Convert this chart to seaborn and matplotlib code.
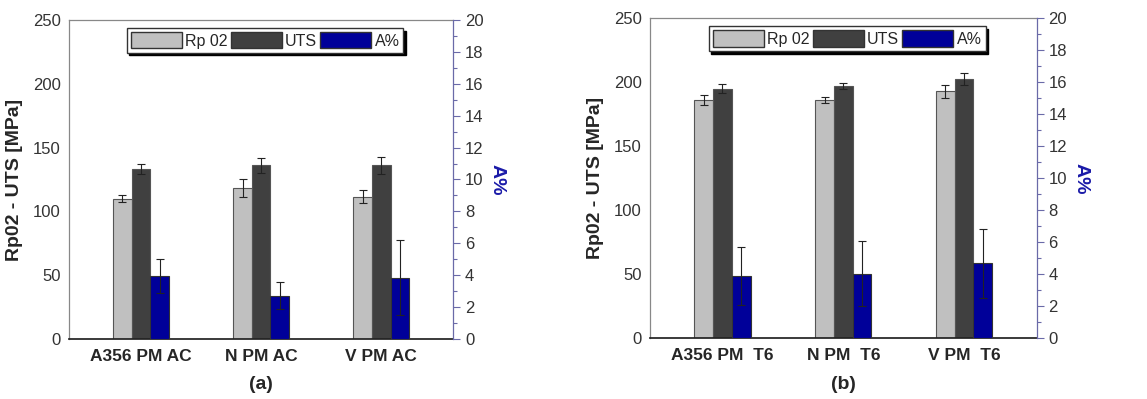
import matplotlib
matplotlib.use("Agg")
import matplotlib.pyplot as plt
from matplotlib.patches import Patch
from matplotlib.ticker import MultipleLocator
import pandas as pd
import seaborn as sns

sns.set_theme(style="white")
plt.rcParams['font.family'] = ['Liberation Sans', 'DejaVu Sans']

metrics = ["Rp 02", "UTS", "A%"]
colors = {"Rp 02": "#c0c0c0", "UTS": "#404040", "A%": "#000099"}

groups_ac = ["A356 PM AC", "N PM AC", "V PM AC"]
rp02_ac = [110, 118, 111.5]
rp02_ac_err = [3, 7, 5]
uts_ac = [133, 136, 136]
uts_ac_err = [4, 6, 7]
elong_ac = [3.95, 2.7, 3.85]
elong_ac_err = [1.05, 0.85, 2.35]

groups_t6 = ["A356 PM  T6", "N PM  T6", "V PM  T6"]
rp02_t6 = [186, 186, 193]
rp02_t6_err = [4, 2.5, 5]
uts_t6 = [195, 197, 202.5]
uts_t6_err = [3.5, 2.5, 4.5]
elong_t6 = [3.9, 4.05, 4.7]
elong_t6_err = [1.8, 2.05, 2.15]


def add_errors(ax, container, errs):
    for bar in container:
        xc = bar.get_x() + bar.get_width() / 2
        idx = int(round(xc))
        ax.errorbar(xc, bar.get_height(), yerr=errs[idx], fmt='none',
                    ecolor='#222222', elinewidth=0.8, capsize=3, capthick=0.8)


def draw_panel(ax, groups, rp02, rp02_err, uts, uts_err, elong, elong_err, tag):
    mpa = pd.DataFrame({
        "group": groups * 2,
        "metric": ["Rp 02"] * 3 + ["UTS"] * 3,
        "value": rp02 + uts,
    })
    pct = pd.DataFrame({"group": groups, "metric": ["A%"] * 3, "value": elong})

    ax2 = ax.twinx()
    sns.barplot(data=mpa, x="group", y="value", hue="metric", hue_order=metrics,
                order=groups, palette=colors, width=0.465, errorbar=None, dodge=True,
                saturation=1, edgecolor="#555555", linewidth=0.8, legend=False, ax=ax)
    sns.barplot(data=pct, x="group", y="value", hue="metric", hue_order=metrics,
                order=groups, palette=colors, width=0.465, errorbar=None, dodge=True,
                saturation=1, edgecolor="#333333", linewidth=0.8, legend=False, ax=ax2)

    mpa_bars = [c for c in ax.containers if len(c)]
    pct_bars = [c for c in ax2.containers if len(c)]
    for cont, errs in zip(mpa_bars, [rp02_err, uts_err]):
        add_errors(ax, cont, errs)
    add_errors(ax2, pct_bars[-1], elong_err)

    ax.set_xlim(-0.6, 2.6)
    ax.set_ylim(0, 250)
    ax2.set_ylim(0, 20)
    ax.set_yticks(range(0, 251, 50))
    ax2.yaxis.set_major_locator(MultipleLocator(2))
    ax2.yaxis.set_minor_locator(MultipleLocator(1))

    ax.set_ylabel("Rp02 - UTS [MPa]", fontsize=14, fontweight='bold', labelpad=7)
    ax2.set_ylabel("A%", fontsize=14, fontweight='bold', color='#1a1aa8',
                   rotation=270, labelpad=16)
    ax.set_xlabel(tag, fontsize=14, fontweight='bold', labelpad=9)

    ax.tick_params(axis='x', length=0, labelsize=12.5, pad=7)
    for lab in ax.get_xticklabels():
        lab.set_fontweight('bold')
    ax.tick_params(axis='y', length=0, labelsize=12, labelcolor='#333333', pad=6)
    ax2.tick_params(axis='y', which='major', length=5, width=0.8, color='#6a6aa8',
                    labelsize=12, labelcolor='#333333', direction='out')
    ax2.tick_params(axis='y', which='minor', length=3, width=0.8, color='#6a6aa8',
                    direction='out', right=True)

    for side in ['left', 'top']:
        ax.spines[side].set_color('#888888')
        ax.spines[side].set_linewidth(0.9)
    ax.spines['bottom'].set_color('#222222')
    ax.spines['right'].set_visible(False)
    for side in ['left', 'top', 'bottom']:
        ax2.spines[side].set_visible(False)
    ax2.spines['right'].set_color('#6a6aa8')
    ax2.spines['right'].set_linewidth(0.9)

    handles = [Patch(facecolor=colors[m], edgecolor='#333333', label=m) for m in metrics]
    leg = ax2.legend(handles=handles, ncol=3, loc='upper center',
                     bbox_to_anchor=(0.51, 0.985), frameon=True, fancybox=False,
                     shadow={'color': 'black', 'alpha': 1}, edgecolor='#333333',
                     fontsize=11.5, handlelength=3.2, handleheight=1.2,
                     handletextpad=0.2, columnspacing=0.2, borderpad=0.25,
                     borderaxespad=0.2)
    leg.get_frame().set_linewidth(1.0)


fig = plt.figure(figsize=(11.47, 3.99), dpi=100)
ax_a = fig.add_axes([0.0602, 0.1504, 0.335, 0.7995])
ax_b = fig.add_axes([0.5667, 0.152, 0.337, 0.802])

draw_panel(ax_a, groups_ac, rp02_ac, rp02_ac_err, uts_ac, uts_ac_err,
           elong_ac, elong_ac_err, "(a)")
draw_panel(ax_b, groups_t6, rp02_t6, rp02_t6_err, uts_t6, uts_t6_err,
           elong_t6, elong_t6_err, "(b)")

fig.savefig("out.png", dpi=100, facecolor='white')
